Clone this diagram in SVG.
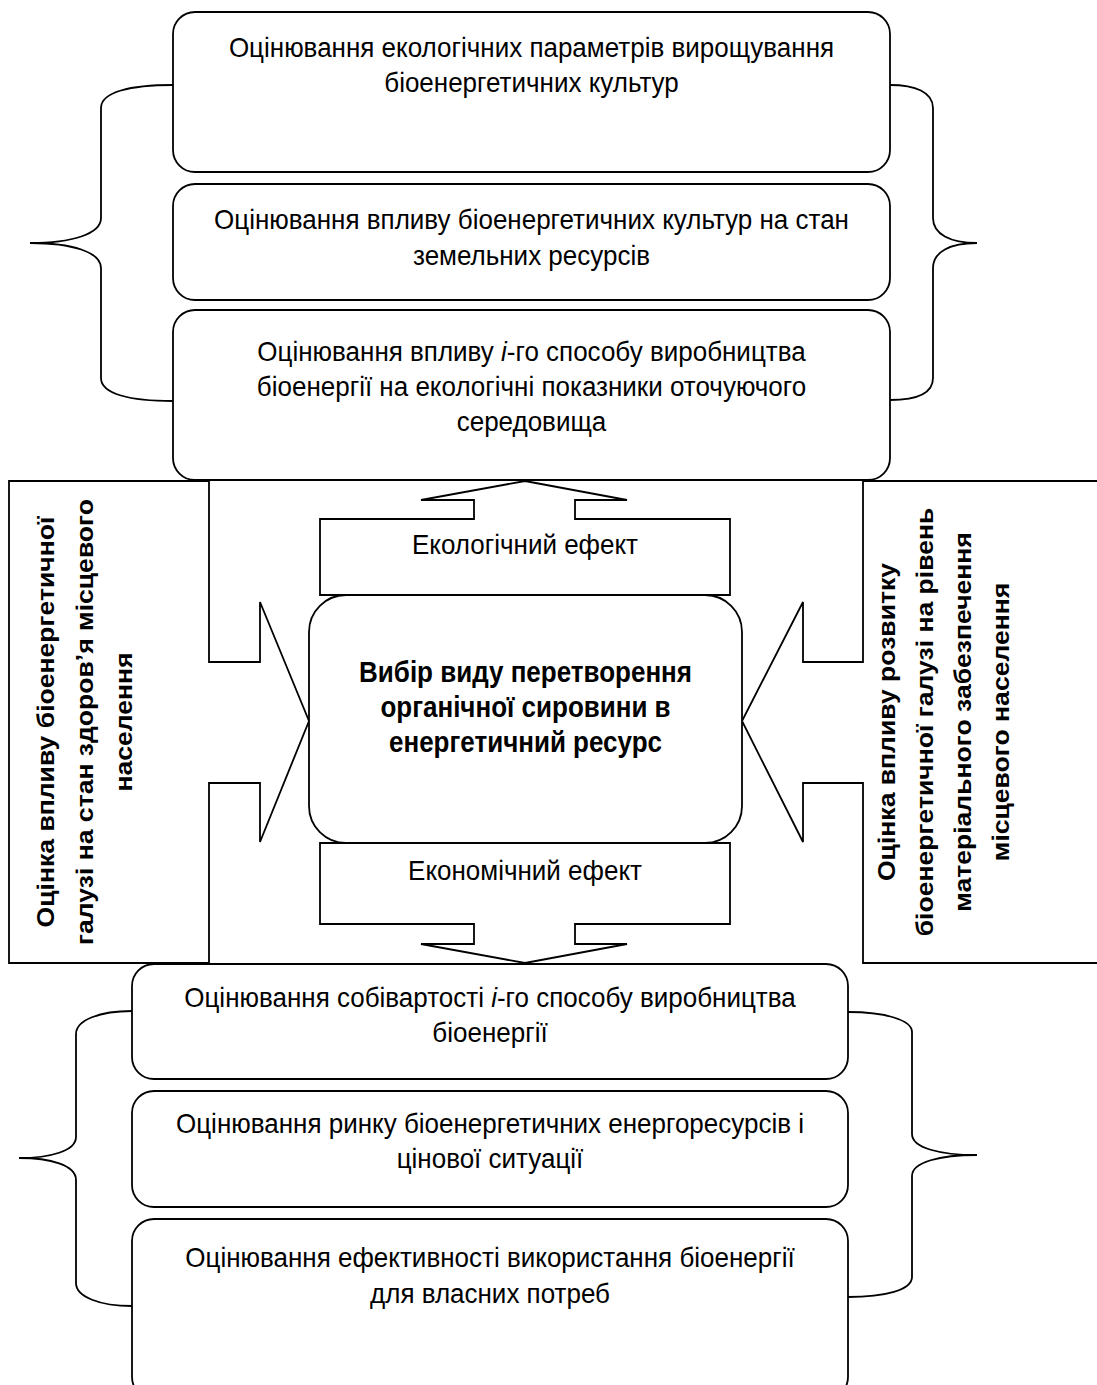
<svg xmlns="http://www.w3.org/2000/svg" width="1097" height="1385" viewBox="0 0 1097 1385">
<style>
.s{fill:#fff;stroke:#000;stroke-width:1.8}
.br{fill:none;stroke:#000;stroke-width:1.8}
.t{font-family:"Liberation Sans",Arial,sans-serif;font-size:26px;text-anchor:middle;fill:#000}
.b{font-family:"Liberation Sans",Arial,sans-serif;font-size:26px;font-weight:bold;text-anchor:middle;fill:#000}
.v{font-family:"Liberation Sans",Arial,sans-serif;font-size:23.5px;font-weight:bold;text-anchor:middle;fill:#000}
</style>
<rect width="1097" height="1385" fill="#fff"/>

<g id="top1"><rect class="s" x="173" y="12" width="717" height="160" rx="22"/>
<text class="t" transform="translate(531.5,57) scale(1,1.06)">Оцінювання екологічних параметрів вирощування</text>
<text class="t" transform="translate(531.5,92) scale(1,1.06)">біоенергетичних культур</text></g>

<g id="top2"><rect class="s" x="173" y="184" width="717" height="116" rx="22"/>
<text class="t" transform="translate(531.5,229) scale(1,1.06)">Оцінювання впливу біоенергетичних культур на стан</text>
<text class="t" transform="translate(531.5,265) scale(1,1.06)">земельних ресурсів</text></g>

<g id="top3"><rect class="s" x="173" y="310" width="717" height="170" rx="22"/>
<text class="t" transform="translate(531.5,361) scale(1,1.06)">Оцінювання впливу <tspan font-style="italic">i</tspan>-го способу виробництва</text>
<text class="t" transform="translate(531.5,396) scale(1,1.06)">біоенергії на екологічні показники оточуючого</text>
<text class="t" transform="translate(531.5,431) scale(1,1.06)">середовища</text></g>

<g id="left">
<path class="s" d="M209,481 H9 V963 H209 V783 H260 V842 L309,721 L260,602 V662 H209 Z"/>
<text class="v" transform="translate(54,722) scale(1,1.13) rotate(-90)">Оцінка впливу біоенергетичної</text>
<text class="v" transform="translate(93,722) scale(1,1.13) rotate(-90)">галузі на стан здоров’я місцевого</text>
<text class="v" transform="translate(132,722) scale(1,1.13) rotate(-90)">населення</text>
</g>

<g id="right">
<path class="s" d="M863,481 H1100 V963 H863 V783 H803 V842 L742,721 L803,602 V662 H863 Z"/>
<text class="v" transform="translate(895,722) scale(1,1.13) rotate(-90)">Оцінка впливу розвитку</text>
<text class="v" transform="translate(933,722) scale(1,1.13) rotate(-90)">біоенергетичної галузі на рівень</text>
<text class="v" transform="translate(971,722) scale(1,1.13) rotate(-90)">матеріального забезпечення</text>
<text class="v" transform="translate(1009,722) scale(1,1.13) rotate(-90)">місцевого населення</text>
</g>

<g id="eco">
<path class="s" d="M320,595 V519 H474 V500 H421 L525,481 L627,500 H575 V519 H730 V595 Z"/>
<text class="t" transform="translate(525,554) scale(1,1.06)">Екологічний ефект</text>
</g>

<g id="center"><rect class="s" x="309" y="595" width="433" height="248" rx="37"/>
<text class="b" transform="translate(525.5,682) scale(1,1.13)">Вибір виду перетворення</text>
<text class="b" transform="translate(525.5,717) scale(1,1.13)">органічної сировини в</text>
<text class="b" transform="translate(525.5,752) scale(1,1.13)">енергетичний ресурс</text></g>

<g id="econ">
<path class="s" d="M320,843 V924 H474 V944 H421 L525,963 L627,944 H575 V924 H730 V843 Z"/>
<text class="t" transform="translate(525,880) scale(1,1.06)">Економічний ефект</text>
</g>

<g id="bot1"><rect class="s" x="132" y="964" width="716" height="115" rx="22"/>
<text class="t" transform="translate(490,1007) scale(1,1.06)">Оцінювання собівартості <tspan font-style="italic">i</tspan>-го способу виробництва</text>
<text class="t" transform="translate(490,1042) scale(1,1.06)">біоенергії</text></g>

<g id="bot2"><rect class="s" x="132" y="1091" width="716" height="116" rx="22"/>
<text class="t" transform="translate(490,1133) scale(1,1.06)">Оцінювання ринку біоенергетичних енергоресурсів і</text>
<text class="t" transform="translate(490,1168) scale(1,1.06)">цінової ситуації</text></g>

<g id="bot3"><rect class="s" x="132" y="1219" width="716" height="180" rx="22"/>
<text class="t" transform="translate(490,1267) scale(1,1.06)">Оцінювання ефективності використання біоенергії</text>
<text class="t" transform="translate(490,1303) scale(1,1.06)">для власних потреб</text></g>

<g id="connectors">
<path class="br" d="M173,85 C130,85 101,92 101,108 V218 C101,234 72,243 30,243 C72,243 101,252 101,268 V378 C101,394 130,401 173,401"/>
<path class="br" d="M890,85 C915,85 933,92 933,108 V218 C933,234 950,243 977,243 C950,243 933,252 933,268 V378 C933,394 915,400 890,400"/>
<path class="br" d="M132,1011 C100,1011 76,1020 76,1034 V1137 C76,1151 50,1158 19,1158 C50,1158 76,1165 76,1180 V1283 C76,1297 100,1306 132,1306"/>
<path class="br" d="M848,1012 C885,1012 912,1020 912,1032 V1134 C912,1148 940,1155 977,1155 C940,1155 912,1162 912,1176 V1277 C912,1290 885,1297 848,1297"/>
</g>
</svg>
